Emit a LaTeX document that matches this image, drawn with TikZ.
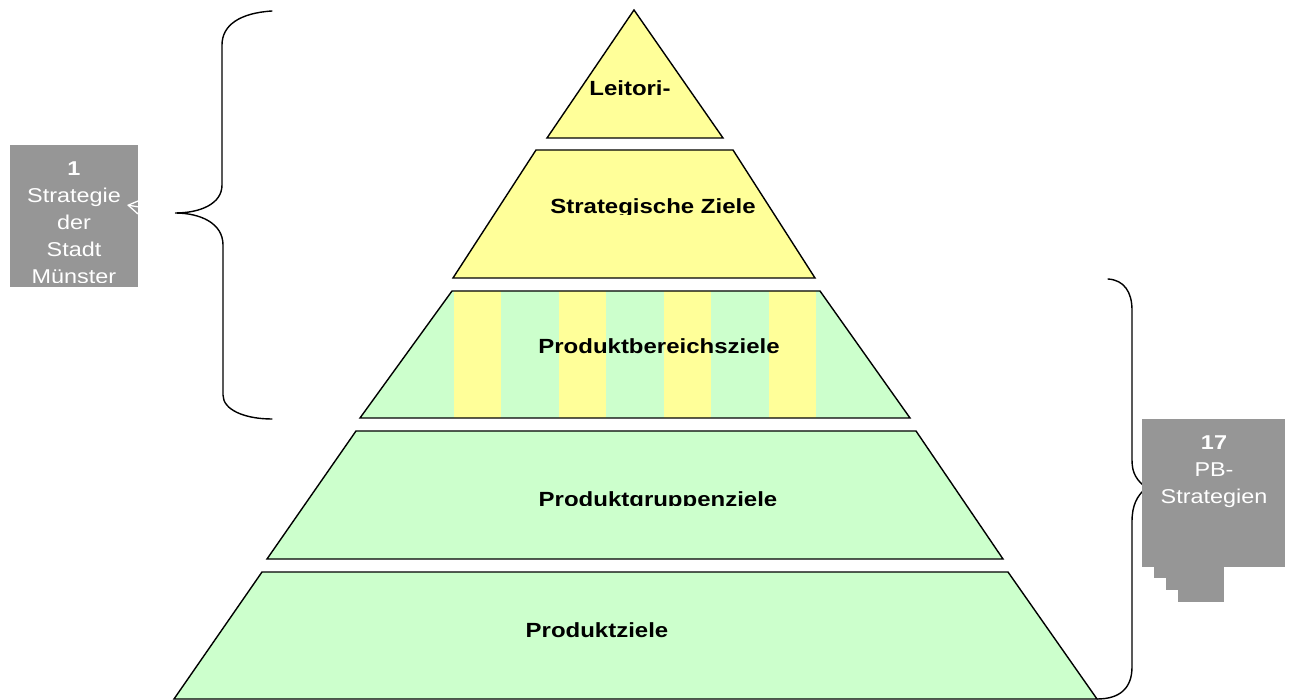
\documentclass[tikz,border=0pt]{standalone}
\usepackage{fontspec}
\setmainfont{Liberation Sans}[FakeStretch=1.17]
\usetikzlibrary{positioning,arrows.meta}
\definecolor{gelb}{HTML}{FFFF99}
\definecolor{gruen}{HTML}{CCFFCC}
\definecolor{grau}{HTML}{969696}
\begin{document}
\begin{tikzpicture}[x=1pt,y=-1pt,
  stufe/.style={draw=black,line width=1.4pt},
  ziel/.style={font=\fontsize{20.5}{24}\selectfont\bfseries,inner sep=0pt,anchor=base},
  kasten/.style={fill=grau,inner sep=0pt,anchor=north west},
  kastentext/.style={text=white,align=center,inner sep=0pt,anchor=north,
    font=\fontsize{20}{27}\selectfont},
  klammer/.style={line width=1.4pt,line cap=round}]
\useasboundingbox (0,0) rectangle (1291,700);
\draw[stufe,fill=gelb] (634,10) -- (723,138) -- (547,138) -- cycle;
\draw[stufe,fill=gelb] (536,150) -- (733,150) -- (815,278) -- (453,278) -- cycle;
\fill[gruen] (452,291) -- (820,291) -- (910,418) -- (360,418) -- cycle;
\foreach \x in {454,559,664,769}
  \fill[gelb] (\x,291) rectangle (\x+47,418);
\draw[stufe] (452,291) -- (820,291) -- (910,418) -- (360,418) -- cycle;
\draw[stufe,fill=gruen] (356,431) -- (916,431) -- (1003,559) -- (267,559) -- cycle;
\draw[stufe,fill=gruen] (262,572) -- (1008,572) -- (1097,699) -- (174,699) -- cycle;
\node[ziel] (leit) at (630,96) {Leitori-};
\begin{scope}
  \clip (453,150) rectangle (815,214.5);
  \node[ziel] (strat) at (653,214) {Strategische Ziele};
\end{scope}
\node[ziel] (bereich) at (659,354) {Produktbereichsziele};
\begin{scope}
  \clip (267,431) rectangle (1003,505.5);
  \node[ziel] (gruppe) at (658,506) {Produktgruppenziele};
\end{scope}
\node[ziel] (produkt) at (597,637) {Produktziele};
\coordinate (lspitze) at (175,213);
\coordinate (rspitze) at (1146,488);
\draw[klammer] (272,11) .. controls (240,13) and (222,25) .. (222,45) -- (222,185)
  .. controls (222,204) and (200,213) .. (lspitze)
  .. controls (200,213) and (223,223) .. (223,245) -- (223,395)
  .. controls (223,410) and (245,419) .. (272,419);
\draw[klammer] (1108,279) .. controls (1124,280) and (1132,292) .. (1132,310) -- (1132,460)
  .. controls (1132,474) and (1137,480) .. (rspitze)
  .. controls (1137,496) and (1132,505) .. (1132,522) -- (1132,667)
  .. controls (1132,688) and (1120,699) .. (1097,699);
\node[kasten,minimum width=128,minimum height=142] (stadt) at (10,145) {};
\coordinate (spitze) at (127,205);
\draw[white,line width=1.3pt,-{Straight Barb[length=11pt,width=14pt]}] (lspitze) -- (spitze);
\begin{scope}
  \clip (10,145) rectangle (138,282.7);
  \node[kastentext] (stadttext) at (74,161.7) {\textbf{1}\\Strategie\\der\\Stadt\\Münster};
\end{scope}
\foreach \x/\y in {1178/602,1166/590,1154/578}
  \fill[grau] (\x,540) rectangle (1224,\y);
\node[kasten,minimum width=143,minimum height=148] (pb) at (1142,419) {};
\node[kastentext] (pbtext) at (1214,435.7) {\textbf{17}\\PB-\\Strategien};
\end{tikzpicture}
\end{document}
